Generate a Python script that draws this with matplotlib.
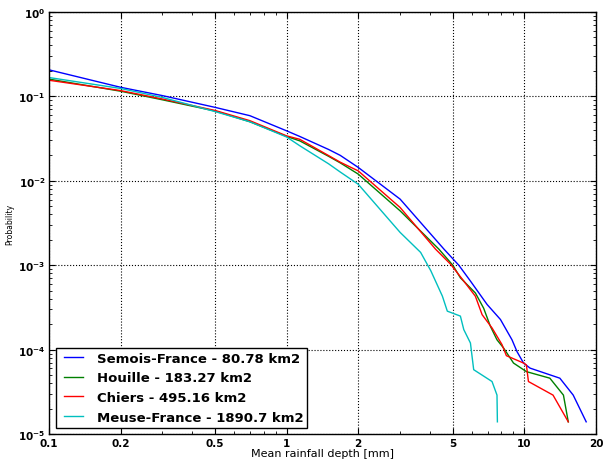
import numpy as np
import matplotlib
matplotlib.use('Agg')
import matplotlib.pyplot as plt
from matplotlib.ticker import FixedLocator, FixedFormatter, LogLocator, NullFormatter, FuncFormatter

# exceedance curves
semois_x = [0.1, 0.2, 0.3, 0.5, 0.7, 1.0, 1.135, 1.5, 1.68, 2.0, 3.0, 4.59, 5.3, 5.93, 6.97,
            7.93, 8.87, 9.31, 9.92, 10.57, 14.1, 16.05, 18.2]
semois_y = [0.206, 0.128, 0.102, 0.074, 0.059, 0.039, 0.0335, 0.0235, 0.020, 0.0144, 0.00607,
            1.55e-3, 1.0e-3, 6.5e-4, 3.43e-4, 2.28e-4, 1.31e-4, 9.5e-5, 6.95e-5, 6.05e-5,
            4.6e-5, 2.9e-5, 1.4e-5]

houille_x = [0.1, 0.2, 0.3, 0.5, 0.7, 1.0, 1.135, 1.5, 1.68, 2.0, 3.0, 4.37, 5.0, 5.38, 6.22,
             6.74, 7.19, 7.67, 8.17, 9.0, 10.2, 12.8, 14.6, 15.3]
houille_y = [0.160, 0.115, 0.091, 0.067, 0.050, 0.0335, 0.0297, 0.0195, 0.0163, 0.012, 0.00441,
             1.55e-3, 1.0e-3, 7.1e-4, 4.7e-4, 3.1e-4, 1.9e-4, 1.31e-4, 1.05e-4, 6.95e-5,
             5.5e-5, 4.6e-5, 2.9e-5, 1.4e-5]

chiers_x = [0.1, 0.2, 0.3, 0.5, 0.7, 1.0, 1.135, 1.5, 1.68, 2.0, 3.0, 4.23, 4.89, 5.56, 6.22,
            6.64, 7.31, 8.05, 8.4, 9.92, 10.2, 10.4, 13.2, 15.3]
chiers_y = [0.155, 0.117, 0.093, 0.068, 0.0515, 0.034, 0.031, 0.0199, 0.0166, 0.0131, 0.00483,
            1.55e-3, 1.03e-3, 6.5e-4, 4.3e-4, 2.6e-4, 1.81e-4, 1.15e-4, 8.5e-5, 6.95e-5,
            6.6e-5, 4.2e-5, 2.9e-5, 1.4e-5]

meuse_x = [0.1, 0.2, 0.3, 0.5, 0.7, 1.0, 1.135, 1.5, 1.68, 2.0, 3.0, 3.66, 4.04, 4.52, 4.74,
           5.38, 5.56, 5.93, 6.12, 7.31, 7.67, 7.7]
meuse_y = [0.167, 0.124, 0.097, 0.066, 0.050, 0.033, 0.026, 0.0159, 0.0127, 0.0091, 0.00245,
           1.42e-3, 8.6e-4, 4.3e-4, 2.86e-4, 2.5e-4, 1.73e-4, 1.2e-4, 5.8e-5, 4.2e-5, 2.9e-5,
           1.4e-5]

labels = ['Semois-France - 80.78 km2', 'Houille - 183.27 km2',
          'Chiers - 495.16 km2', 'Meuse-France - 1890.7 km2']
colors = ['b', 'g', 'r', 'c']

xticks = [0.1, 0.2, 0.5, 1, 2, 5, 10, 20]
xticklabels = ['0.1', '0.2', '0.5', '1', '2', '5', '10', '20']

fig = plt.figure(figsize=(6.05, 4.6), dpi=100)
ax = fig.add_axes([0.081, 0.054, 0.904, 0.918])

series = [(semois_x, semois_y), (houille_x, houille_y), (chiers_x, chiers_y), (meuse_x, meuse_y)]
for (x, y), lab, c in zip(series, labels, colors):
    ax.plot(x, y, color=c, lw=1.0, label=lab)

ax.set_xscale('log')
ax.set_yscale('log')
ax.set_xlim(0.1, 20)
ax.set_ylim(1e-5, 1)

ax.xaxis.set_major_locator(FixedLocator(xticks))
ax.xaxis.set_major_formatter(FixedFormatter(xticklabels))
ax.xaxis.set_minor_locator(LogLocator(base=10, subs=np.arange(1, 10)))
ax.xaxis.set_minor_formatter(NullFormatter())
ax.yaxis.set_major_locator(LogLocator(base=10, numticks=10))
ax.yaxis.set_major_formatter(FuncFormatter(lambda v, p: r'$\mathbf{10^{%d}}$' % round(np.log10(v))))
ax.yaxis.set_minor_locator(LogLocator(base=10, subs=np.arange(2, 10), numticks=20))
ax.yaxis.set_minor_formatter(NullFormatter())

ax.tick_params(which='both', direction='in', top=True, right=True)
ax.tick_params(which='major', length=4, labelsize=7.5, pad=2.5)
ax.tick_params(which='minor', length=2)
for t in ax.get_xticklabels():
    t.set_fontweight('bold')

ax.grid(True, which='major', color='k', linestyle=':', linewidth=0.8)
for s in ax.spines.values():
    s.set_linewidth(1.0)

ax.set_xlabel('Mean rainfall depth [mm]', fontsize=8, labelpad=0.5)
ax.set_ylabel('Probability', fontsize=5.5)
ax.yaxis.set_label_coords(-0.064, 0.5)

leg = ax.legend(loc='lower left', prop={'weight': 'bold', 'size': 9.5},
                fancybox=False, edgecolor='k', framealpha=1, numpoints=2,
                handlelength=2.1, handletextpad=0.7, labelspacing=0.5,
                borderpad=0.3, borderaxespad=0.5)
leg.get_frame().set_linewidth(1.0)

fig.savefig('out.png', dpi=100)
